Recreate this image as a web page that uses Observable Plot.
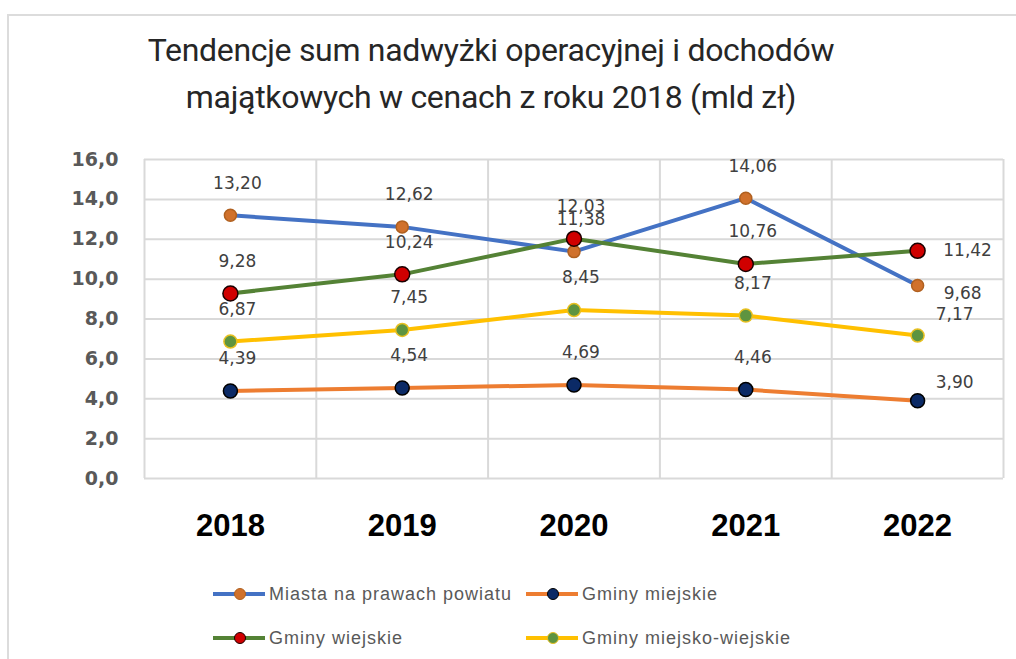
<!DOCTYPE html>
<html>
<head>
<meta charset="utf-8">
<script src="https://cdn.jsdelivr.net/npm/d3@7"></script>
<script src="https://cdn.jsdelivr.net/npm/@observablehq/plot@0.6"></script>
<style>
  html, body { margin: 0; padding: 0; background: #fff; }
  #page { position: relative; width: 1016px; height: 659px; overflow: hidden; background: #fff; }
  #frame { position: absolute; left: 7px; top: 14px; right: -4px; bottom: -4px; border-top: 2px solid #dcdcdc; border-left: 2px solid #dcdcdc; }
  #title { position: absolute; left: 0; top: 27px; width: 982px; text-align: center;
           font-family: Roboto, "Liberation Sans", sans-serif;
           font-size: 32px; letter-spacing: -0.3px; line-height: 47px; color: #262626; }
  #chart { position: absolute; left: 0; top: 130px; }
  .legend-item { position: absolute; display: flex; align-items: center; height: 24px;
                 font-family: "Liberation Sans", Arial, sans-serif; font-size: 18px; letter-spacing: 1px; color: #595959; }
  .legend-item svg { display: block; margin-right: 2px; }
</style>
</head>
<body>
<div id="page">
  <div id="frame"></div>
  <div id="title">Tendencje sum nadwyżki operacyjnej i dochodów<br>majątkowych w cenach z roku 2018 (mld zł)</div>
  <div id="chart"></div>
  <div id="legend"></div>
</div>
<script>
// ---- data ----
const years = [2018, 2019, 2020, 2021, 2022];
const seriesNames = ["Miasta na prawach powiatu", "Gminy miejskie", "Gminy wiejskie", "Gminy miejsko-wiejskie"];
const miasta = [13.20, 12.62, 11.38, 14.06, 9.68];
const gminyMiejskie = [4.39, 4.54, 4.69, 4.46, 3.90];
const gminyWiejskie = [9.28, 10.24, 12.03, 10.76, 11.42];
const gminyMiejskoWiejskie = [6.87, 7.45, 8.45, 8.17, 7.17];
const yTicks = [0, 2, 4, 6, 8, 10, 12, 14, 16];

// ---- styles (kept separate from data) ----
const seriesValues = [miasta, gminyMiejskie, gminyWiejskie, gminyMiejskoWiejskie];
const styles = [
  {line: "#4472C4", fill: "#D0712C", stroke: "#B0601F", r: 6,   lastDx: 45, lastDy: 8},
  {line: "#ED7D31", fill: "#0B2A66", stroke: "#000000", r: 7,   lastDx: 37, lastDy: -18},
  {line: "#548235", fill: "#D00000", stroke: "#1a0000", r: 7.5, lastDx: 50, lastDy: 0},
  {line: "#FFC000", fill: "#5E9440", stroke: "#E8C020", r: 6.5, lastDx: 37, lastDy: -21}
];

const fmt = v => v.toFixed(2).replace(".", ",");
const labelFont = "DejaVu Sans, sans-serif";

const rows = seriesNames.flatMap((name, i) =>
  years.map((year, j) => ({series: name, idx: i, year, value: seriesValues[i][j], last: j === years.length - 1}))
);
const boundaries = [...years.map(y => y - 0.5), years[years.length - 1] + 0.5];

const marks = [
  Plot.ruleY(yTicks, {y: d => d, stroke: "#d9d9d9", strokeWidth: 2}),
  Plot.ruleX(boundaries, {x: d => d, stroke: "#d9d9d9", strokeWidth: 2}),
  Plot.axisY({ticks: yTicks, label: null, tickSize: 0, tickPadding: 26, tickFormat: d => d.toFixed(1).replace(".", ","),
              fontSize: 19, fontWeight: "bold", fontFamily: "DejaVu Sans, sans-serif", fill: "#595959"}),
  Plot.axisX({ticks: years, label: null, tickSize: 0, tickPadding: 35, tickFormat: d => String(d),
              fontSize: 31, fontWeight: "bold", fontFamily: "Liberation Sans, Arial, sans-serif", fill: "#000"})
];

seriesNames.forEach((name, i) => {
  const s = styles[i];
  const data = rows.filter(d => d.idx === i);
  marks.push(
    Plot.line(data, {x: "year", y: "value", stroke: s.line, strokeWidth: 4, strokeLinejoin: "round", strokeLinecap: "round"}),
    Plot.dot(data, {x: "year", y: "value", r: s.r, fill: s.fill, stroke: s.stroke, strokeWidth: 1.5})
  );
});
seriesNames.forEach((name, i) => {
  const s = styles[i];
  const data = rows.filter(d => d.idx === i);
  marks.push(
    Plot.text(data.filter(d => !d.last), {x: "year", y: "value", text: d => fmt(d.value), dx: 7, dy: -32,
      fontSize: 17, fontFamily: labelFont, fill: "#404040"}),
    Plot.text(data.filter(d => d.last), {x: "year", y: "value", text: d => fmt(d.value), dx: s.lastDx, dy: s.lastDy,
      fontSize: 17, fontFamily: labelFont, fill: "#404040"})
  );
});

const chart = Plot.plot({
  width: 1016,
  height: 420,
  marginLeft: 144,
  marginRight: 13,
  marginTop: 29,
  marginBottom: 72,
  x: {domain: [2017.5, 2022.5], axis: null},
  y: {domain: [0, 16], axis: null},
  style: {background: "transparent", overflow: "visible"},
  marks
});
document.getElementById("chart").appendChild(chart);

// ---- legend ----
const legendPos = [
  {left: 211, top: 582},
  {left: 524, top: 582},
  {left: 211, top: 626},
  {left: 524, top: 626}
];
const legend = document.getElementById("legend");
seriesNames.forEach((name, i) => {
  const s = styles[i];
  const item = document.createElement("div");
  item.className = "legend-item";
  item.style.left = legendPos[i].left + "px";
  item.style.top = legendPos[i].top + "px";
  const svg = d3.create("svg").attr("width", 56).attr("height", 24);
  svg.append("line").attr("x1", 2).attr("x2", 54).attr("y1", 12).attr("y2", 12)
    .attr("stroke", s.line).attr("stroke-width", 4);
  svg.append("circle").attr("cx", 29).attr("cy", 12).attr("r", 5.5)
    .attr("fill", s.fill).attr("stroke", s.stroke).attr("stroke-width", 1);
  item.appendChild(svg.node());
  const span = document.createElement("span");
  span.textContent = name;
  item.appendChild(span);
  legend.appendChild(item);
});
</script>
</body>
</html>
